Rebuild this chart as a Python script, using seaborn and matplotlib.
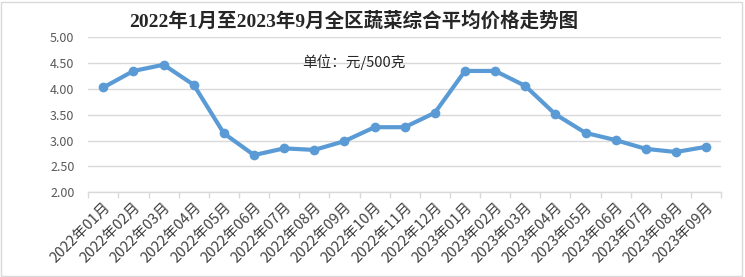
import matplotlib
matplotlib.use("Agg")
import matplotlib.pyplot as plt
import seaborn as sns
import pandas as pd
from matplotlib.patches import Rectangle
from matplotlib.ticker import FixedLocator, MultipleLocator

months = ["2022年01月", "2022年02月", "2022年03月", "2022年04月", "2022年05月", "2022年06月",
          "2022年07月", "2022年08月", "2022年09月", "2022年10月", "2022年11月", "2022年12月",
          "2023年01月", "2023年02月", "2023年03月", "2023年04月", "2023年05月", "2023年06月",
          "2023年07月", "2023年08月", "2023年09月"]
prices = [4.03, 4.35, 4.47, 4.08, 3.14, 2.72, 2.85, 2.82, 2.99, 3.26, 3.26, 3.54,
          4.35, 4.35, 4.06, 3.51, 3.15, 3.01, 2.84, 2.78, 2.88]
title = "2022年1月至2023年9月全区蔬菜综合平均价格走势图"
unit_note = "单位：元/500克"

sns.set_theme(style="white")
plt.rcParams['font.family'] = ['Noto Sans CJK SC', 'DejaVu Sans']

df = pd.DataFrame({"month": months, "price": prices})

fig = plt.figure(figsize=(7.45, 2.77), dpi=100)
ax = fig.add_axes([0.1185, 0.306, 0.8495, 0.559])

sns.lineplot(data=df, x="month", y="price", ax=ax, color="#5b9bd5", linewidth=3.0,
             marker="o", markersize=7, markeredgewidth=0, sort=False)

ax.set_xlim(-0.5, len(months) - 0.5)
ax.set_ylim(2.0, 5.0)
ax.yaxis.set_major_locator(MultipleLocator(0.5))
ax.set_yticklabels([f"{v:.2f}" for v in ax.get_yticks()])
ax.grid(axis="y", color="#d9d9d9", linewidth=1.0)
ax.set_axisbelow(True)
for s in ["left", "right", "top"]:
    ax.spines[s].set_visible(False)
ax.spines["bottom"].set_color("#d9d9d9")
ax.spines["bottom"].set_linewidth(1.0)

ax.set_xlabel("")
ax.set_ylabel("")
ax.set_xticks(range(len(months)))
ax.set_xticklabels(months, rotation=45, ha="right", rotation_mode="anchor",
                   fontsize=10.5, color="#404040")
ax.tick_params(axis="x", which="major", length=0, pad=6)
ax.xaxis.set_minor_locator(FixedLocator([i - 0.5 for i in range(len(months) + 1)]))
ax.tick_params(axis="x", which="minor", length=4, color="#d9d9d9", width=1.0, bottom=True)
ax.tick_params(axis="y", length=0, labelsize=9, labelcolor="#595959", pad=10)

fig.text(0.475, 0.925, title, ha="center", va="center", fontsize=14, fontweight="bold",
         color="#262626", family=['Liberation Serif', 'Noto Sans CJK SC'])
ax.text(0.42, 0.84, unit_note, transform=ax.transAxes, ha="center", va="center",
        fontsize=10.5, color="#262626")

fig.patches.append(Rectangle((0.002, 0.004), 0.994, 0.99, transform=fig.transFigure,
                             fill=False, edgecolor="#d9d9d9", linewidth=1.0))

fig.savefig("out.png", dpi=100)
